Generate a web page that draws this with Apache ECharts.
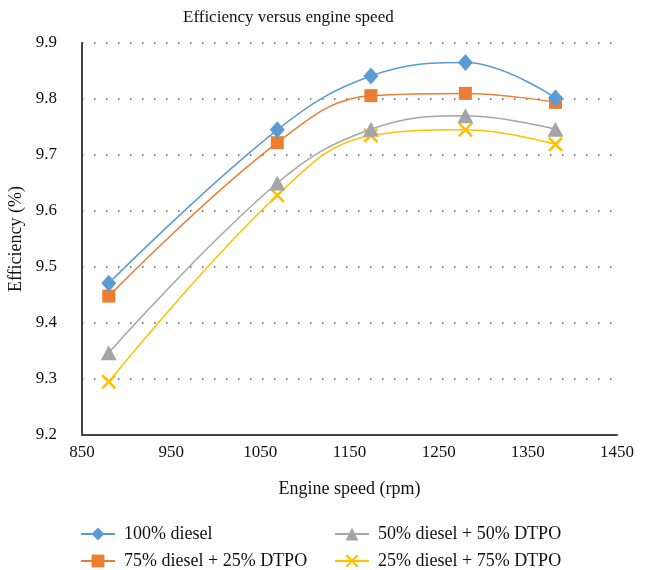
<!DOCTYPE html>
<html><head><meta charset="utf-8">
<script src="https://cdn.jsdelivr.net/npm/echarts@6/dist/echarts.min.js"></script>
<style>html,body{margin:0;padding:0;background:#fff}#c{width:648px;height:570px}</style>
</head><body><div id="c"></div>
<script>
var speeds = [880, 1069, 1174, 1280, 1381];
var names = ['100% diesel', '75% diesel + 25% DTPO', '50% diesel + 50% DTPO', '25% diesel + 75% DTPO'];
var diesel100 = [9.471, 9.745, 9.841, 9.865, 9.802];
var diesel75 = [9.448, 9.722, 9.806, 9.810, 9.794];
var diesel50 = [9.347, 9.650, 9.746, 9.770, 9.746];
var diesel25 = [9.295, 9.628, 9.735, 9.745, 9.719];
var xTicks = [850, 950, 1050, 1150, 1250, 1350, 1450];

var FONT = 'Liberation Serif';
var colors = ['#5B9BD5', '#ED7D31', '#A5A5A5', '#FFC000'];
var xSym = 'path://M0,1.2 L1.2,0 L5,3.8 L8.8,0 L10,1.2 L6.2,5 L10,8.8 L8.8,10 L5,6.2 L1.2,10 L0,8.8 L3.8,5 Z';
var symbols = ['diamond', 'rect', 'triangle', xSym];
var sizes = [[15, 17], 13, [16, 15], 15];
var values = [diesel100, diesel75, diesel50, diesel25];

function pairs(v) { return speeds.map(function (s, i) { return [s, v[i]]; }); }

var series = names.map(function (n, k) {
  return {
    name: n, type: 'line', smooth: 0.4, data: pairs(values[k]),
    symbol: symbols[k], symbolSize: sizes[k], showSymbol: true,
    lineStyle: { color: colors[k], width: 1.5 },
    itemStyle: { color: colors[k] },
    z: 10 - k
  };
});

var legendPos = [[75, 520], [75, 547], [329, 520], [329, 547]];
var legends = names.map(function (n, k) {
  return {
    data: [n], left: legendPos[k][0], top: legendPos[k][1],
    itemWidth: 34, itemHeight: 16,
    textStyle: { fontFamily: FONT, fontSize: 18, color: '#111', padding: [0, 0, 0, 4] }
  };
});

var chart = echarts.init(document.getElementById('c'), null, { renderer: 'canvas' });
chart.setOption({
  animation: false,
  color: colors,
  title: {
    text: 'Efficiency versus engine speed', left: 178, top: 4,
    textStyle: { fontFamily: FONT, fontSize: 17, fontWeight: 'normal', color: '#111' }
  },
  legend: legends,
  grid: { left: 82, right: 31, top: 43, bottom: 135, containLabel: false, outerBoundsMode: 'none' },
  xAxis: {
    type: 'value', min: 850, max: 1450, interval: 50,
    name: 'Engine speed (rpm)', nameLocation: 'middle', nameGap: 45,
    nameTextStyle: { fontFamily: FONT, fontSize: 18, color: '#111' },
    axisLine: { lineStyle: { color: '#444', width: 2 } },
    axisTick: { show: false },
    splitLine: { show: false },
    axisLabel: {
      fontFamily: FONT, fontSize: 17, color: '#111', margin: 9,
      formatter: function (v) { return xTicks.indexOf(Math.round(v)) >= 0 ? String(Math.round(v)) : ''; }
    }
  },
  yAxis: {
    type: 'value', min: 9.2, max: 9.9, interval: 0.1,
    name: 'Efficiency (%)', nameLocation: 'middle', nameGap: 44, nameRotate: 90,
    nameTextStyle: { fontFamily: FONT, fontSize: 18, color: '#111' },
    axisLine: { show: true, lineStyle: { color: '#444', width: 2 } },
    axisTick: { show: false },
    splitLine: { show: true, lineStyle: { color: '#555', width: 1.5, type: [1.5, 10.5] } },
    axisLabel: { fontFamily: FONT, fontSize: 17, color: '#111', margin: 25,
      formatter: function (v) { return v.toFixed(1); } }
  },
  series: series
});
</script>
</body></html>
